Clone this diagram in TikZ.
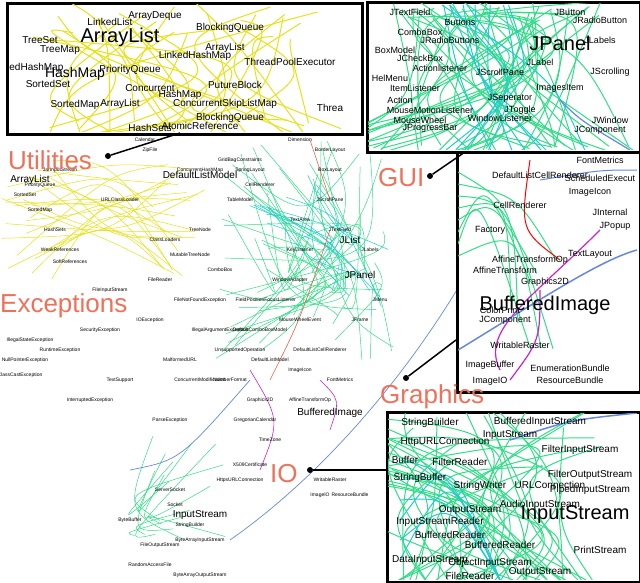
\documentclass[tikz,border=0pt]{standalone}
\usepackage{fontspec}
\setmainfont{Liberation Sans}
\begin{document}
\begin{tikzpicture}[x=1pt,y=-1pt,
  lab/.style={font=\fontsize{26}{26}\selectfont,text=salm,inner sep=0pt},
  tiny/.style={font=\fontsize{5}{5}\selectfont,inner sep=0pt},
  sm/.style={font=\fontsize{10}{10}\selectfont,inner sep=0pt},
  big/.style={font=\fontsize{20}{20}\selectfont,inner sep=0pt},
  inset/.style={draw=black,line width=3pt,fill=white},
  conn/.style={line width=1.5pt},
  dotc/.style={circle,fill=black,inner sep=0pt,minimum size=6pt}]
\definecolor{salm}{HTML}{F0705A}
\definecolor{yel}{HTML}{E6E21A}
\definecolor{grn}{HTML}{33DD88}
\definecolor{cya}{HTML}{22CCCC}
\definecolor{mag}{HTML}{CC22CC}
\definecolor{blu}{HTML}{6688DD}
\useasboundingbox (0,0) rectangle (640,582);
\fill[white] (0,0) rectangle (640,582);
\pgfmathsetseed{7}
% central graph curves
\foreach \i in {1,...,25}{
  \pgfmathsetmacro\ax{30+rand*30}\pgfmathsetmacro\ay{220+rand*60}
  \pgfmathsetmacro\bx{180+rand*30}\pgfmathsetmacro\by{220+rand*60}
  \draw[yel,line width=0.5pt] (\ax,\ay) .. controls (110,{200+rand*40}) .. (\bx,\by);}
\foreach \i in {1,...,40}{
  \pgfmathsetmacro\ax{300+rand*90}\pgfmathsetmacro\ay{250+rand*110}
  \pgfmathsetmacro\bx{310+rand*90}\pgfmathsetmacro\by{250+rand*110}
  \draw[grn,line width=0.5pt] (\ax,\ay) .. controls ({330+rand*60},{260+rand*60}) .. (\bx,\by);}
\foreach \i in {1,...,12}{
  \draw[cya,line width=0.5pt] ({280+rand*40},{200+rand*40}) .. controls ({330+rand*30},{240+rand*30}) .. ({350+rand*40},{280+rand*40});}
\foreach \i in {1,...,10}{
  \draw[grn,line width=0.5pt] ({150+rand*20},{480+rand*60}) .. controls ({120+rand*20},{520+rand*30}) .. ({200+rand*30},{500+rand*60});}
\draw[mag,line width=0.6pt] (250,370) .. controls (280,420) .. (260,470);
\draw[mag,line width=0.6pt] (330,430) .. controls (340,400) .. (320,380);
\draw[blu,line width=0.7pt] (230,540) .. controls (330,470) and (420,360) .. (480,250);
\draw[blu,line width=0.7pt] (130,470) .. controls (180,460) .. (250,380);
\draw[salm!80!red,line width=0.6pt] (310,140) .. controls (320,170) .. (330,200);
\draw[salm!80!red,line width=0.6pt] (330,230) .. controls (300,320) .. (270,380);
% central labels
\foreach \x/\y/\t in {150/150/ZipFile,145/140/Calendar,40/185/PriorityQueue,25/195/SortedSet,40/210/SortedMap,
 55/230/HashSets,60/250/WeakReferences,70/262/SoftReferences,120/200/URLClassLoader,165/240/ClassLoaders,
 190/255/MutableTreeNode,200/230/TreeNode,220/270/ComboBox,240/200/TableModel,260/185/CellRenderer,
 240/160/GridBagConstraints,250/170/SpringLayout,300/140/Dimension,330/150/BorderLayout,330/170/BoxLayout,
 300/220/TextArea,340/230/JTextField,300/250/KeyListener,290/280/WindowAdapter,280/300/FocusListener,
 300/320/MouseWheelEvent,320/350/DefaultListCellRenderer,300/370/ImageIcon,340/380/FontMetrics,
 310/400/AffineTransformOp,260/400/Graphics2D,255/420/GregorianCalendar,270/440/TimeZone,250/465/X509Certificate,
 240/480/HttpsURLConnection,170/490/ServerSocket,175/505/Socket,190/525/StringBuilder,200/540/ByteArrayInputStream,
 160/545/FileOutputStream,150/565/RandomAccessFile,200/575/ByteArrayOutputStream,130/520/ByteBuffer,
 330/480/WritableRaster,320/495/ImageIO,350/495/ResourceBundle,30/340/IllegalStateException,
 25/360/NullPointerException,20/375/ClassCastException,60/350/RuntimeException,100/330/SecurityException,
 150/320/IOException,200/300/FileNotFoundException,220/330/IllegalArgumentException,240/350/UnsupportedOperation,
 110/290/FileInputStream,160/280/FileReader,250/300/FieldPosition,200/380/ConcurrentModification,
 120/380/TextSupport,180/360/MalformedURL,230/380/NumberFormat,170/420/ParseException,90/400/InterruptedException,
 330/200/JScrollPane,370/250/JLabels,380/300/JMenu,360/320/JFrame,260/330/DefaultComboBoxModel,
 270/360/DefaultListModel,200/170/ConcurrentHashMap,60/170/JarInputStream}
  \node[tiny] at (\x,\y) {\t};
\node[sm] at (30,180) {ArrayList};
\node[sm] at (200,175) {DefaultListModel};
\node[sm] at (350,240) {JList};
\node[sm] at (360,275) {JPanel};
\node[sm] at (330,413) {BufferedImage};
\node[sm] at (200,515) {InputStream};
% inset top-left
\node[inset,minimum width=355pt,minimum height=131pt,anchor=north west] (iu) at (6,2) {};
\begin{scope}
\clip (8,4) rectangle (359,131);
\foreach \i in {1,...,30}{
 \draw[yel,line width=1pt] ({20+rand*10+\i*10},{20+rand*20}) .. controls ({180+rand*150},{60+rand*60}) .. ({180+rand*170},{130+rand*10});}
\foreach \x/\y/\t in {40/40/TreeSet,110/22/LinkedList,155/16/ArrayDeque,230/28/BlockingQueue,60/50/TreeMap,
 30/68/inkedHashMap,48/84/SortedSet,75/105/SortedMap,130/70/PriorityQueue,225/48/ArrayList,290/62/ThreadPoolExecutor,
 150/88/Concurrent,180/95/HashMap,120/104/ArrayList,225/104/ConcurrentSkipListMap,230/118/BlockingQueue,
 200/126/AtomicReference,150/128/HashSets,330/108/Threa,195/56/LinkedHashMap,235/85/PutureBlock}
  \node[font=\fontsize{10}{10}\selectfont,inner sep=0pt] at (\x,\y) {\t};
\node[big] at (120,37) {ArrayList};
\node[font=\fontsize{14}{14}\selectfont,inner sep=0pt] at (75,74) {HashMap};
\end{scope}
% inset top-right
\node[inset,minimum width=273pt,minimum height=150pt,anchor=north west] (ig) at (366,1) {};
\begin{scope}
\clip (368,3) rectangle (637,149);
\foreach \i in {1,...,45}{
 \draw[grn,line width=1pt] ({380+rand*20+\i*5},{10+rand*10}) .. controls ({500+rand*100},{70+rand*70}) .. ({450+rand*190},{150+rand*5});}
\foreach \i in {1,...,10}{\draw[cya,line width=1pt] ({480+rand*40},5) .. controls ({500+rand*60},80) .. ({520+rand*80},150);}
\draw[blu,line width=1.2pt] (560,100) .. controls (580,120) .. (630,150);
\foreach \x/\y/\t in {410/12/JTextField,420/32/ComboBox,450/40/JRadioButtons,395/50/BoxModel,420/58/JCheckBox,
 440/68/Actionlistener,390/78/HelMenu,415/88/ItemListener,400/100/Action,430/110/MouseMotionListener,
 420/120/MouseWheel,430/128/JProgressBar,500/72/JScrollPane,540/62/JLabel,510/98/JSeperator,520/110/JToggle,
 500/118/WindowListener,570/12/JButton,600/40/JLabels,610/72/JScrolling,610/120/JWindow,600/130/JComponent,
 560/88/ImagesItem,460/22/Buttons,600/20/JRadioButton}
  \node[font=\fontsize{9}{9}\selectfont,inner sep=0pt] at (\x,\y) {\t};
\node[big] at (560,43) {JPanel};
\end{scope}
% inset right middle
\node[inset,minimum width=183pt,minimum height=240pt,anchor=north west] (igr) at (456,151) {};
\begin{scope}
\clip (458,153) rectangle (637,389);
\foreach \i in {1,...,8}{\draw[grn,line width=1pt] (458,{160+\i*12}) .. controls ({500+rand*30},{200+rand*30}) .. ({520+rand*40},{300+rand*60});}
\draw[red,line width=1pt] (530,160) .. controls (520,230) .. (560,260);
\draw[mag,line width=1.2pt] (500,370) .. controls (480,330) and (530,300) .. (600,230);
\draw[mag,line width=1.2pt] (510,380) .. controls (540,340) .. (540,290);
\draw[blu,line width=1.5pt] (458,350) .. controls (540,300) and (600,260) .. (637,250);
\draw[blu,line width=1pt] (540,180) .. controls (600,170) .. (637,170);
\foreach \x/\y/\t in {600/160/FontMetrics,540/175/DefaultListCellRenderer,600/178/ScheduledExecut,
 590/192/ImageIcon,520/205/CellRenderer,610/212/JInternal,615/226/JPopup,490/230/Factory,590/254/TextLayout,
 530/260/AffineTransformOp,545/282/Graphics2D,505/320/JComponent,520/345/WritableRaster,490/365/ImageBuffer,
 570/368/EnumerationBundle,570/380/ResourceBundle,490/381/ImageIO,500/310/ColorPrint,505/270/AffineTransform}
  \node[font=\fontsize{9}{9}\selectfont,inner sep=0pt] at (\x,\y) {\t};
\node[big] at (545,305) {BufferedImage};
\end{scope}
% inset bottom right
\node[inset,minimum width=253pt,minimum height=170pt,anchor=north west] (iio) at (386,411) {};
\begin{scope}
\clip (388,413) rectangle (637,579);
\foreach \i in {1,...,40}{
 \draw[grn,line width=1pt] ({390+rand*10+\i*5},{580}) .. controls ({470+rand*120},{480+rand*60}) .. ({400+rand*230},{420+rand*60});}
\foreach \i in {1,...,6}{\draw[cya,line width=1pt] (400,{440+\i*20}) .. controls (450,{480+rand*30}) .. (500,580);}
\draw[blu,line width=1.5pt] (510,440) .. controls (570,420) .. (637,413);
\foreach \x/\y/\t in {430/423/StringBuilder,540/422/BufferedInputStream,510/435/InputStream,445/442/HttpURLConnection,
 580/450/FilterInputStream,405/460/Buffer,460/462/FilterReader,590/475/FilterOutputStream,420/478/StringBuffer,
 480/486/StringWriter,550/485/URLConnection,590/490/PipedInputStream,540/505/AudioInputStream,470/510/OutputStream,
 440/522/InputStreamReader,500/545/BufferedReader,430/560/DataInputStream,490/563/ObjectInputStream,
 470/576/FileReader,600/550/PrintStream,540/572/OutputStream,450/535/BufferedReader}
  \node[font=\fontsize{10}{10}\selectfont,inner sep=0pt] at (\x,\y) {\t};
\node[big] at (575,515) {InputStream};
\end{scope}
% category labels and connectors
\node[lab,anchor=west] (lu) at (8,160) {Utilities};
\node[lab,anchor=west] (lg) at (378,178) {GUI};
\node[lab,anchor=west] (le) at (0,306) {Exceptions};
\node[lab,anchor=west] (lgr) at (380,397) {Graphics};
\node[lab,anchor=west] (lio) at (270,474) {IO};
\node[dotc] (du) at (108,156) {};
\node[dotc] (dg) at (430,176) {};
\node[dotc] (dgr) at (406,378) {};
\node[dotc] (dio) at (310,470) {};
\draw[conn] (du) -- (180,133);
\draw[conn] (dg) -- (465,152);
\draw[conn] (dgr) -- (456,340);
\draw[conn] (dio) -- (386,470);
\end{tikzpicture}
\end{document}
